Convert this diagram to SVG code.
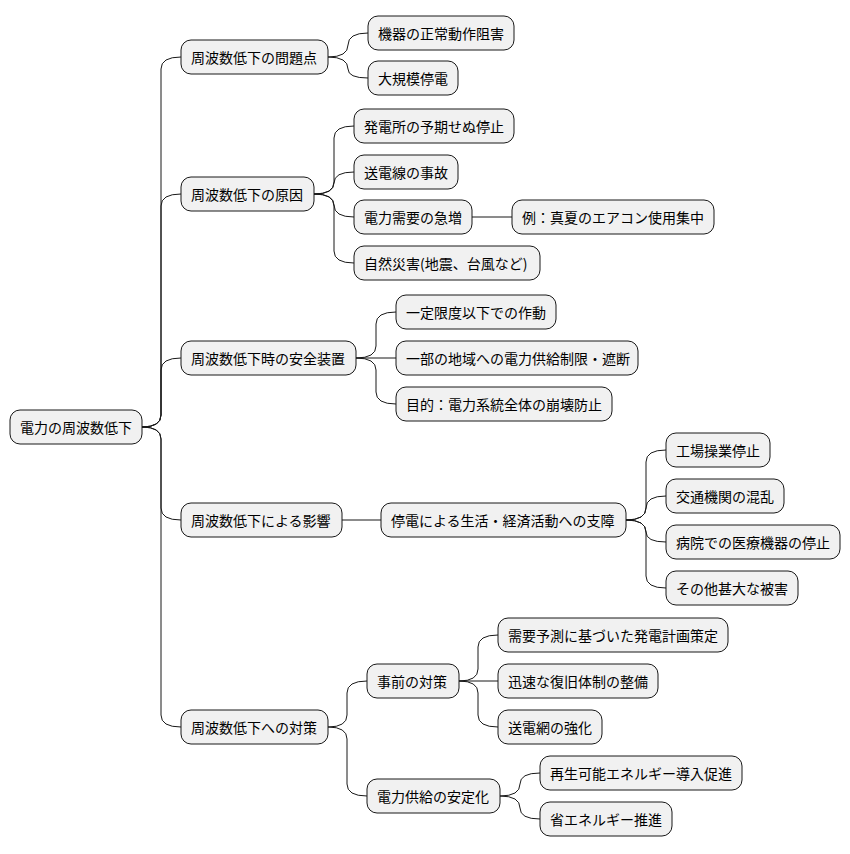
<svg xmlns="http://www.w3.org/2000/svg" width="850" height="854" viewBox="0 0 850 854">
<style>
.n rect{fill:#F1F1F1;stroke:#181818;stroke-width:1;}
.n text{font-family:"Noto Sans CJK JP","Liberation Sans",sans-serif;font-size:14px;fill:#000;dominant-baseline:central;}
.c path{fill:none;stroke:#181818;stroke-width:1;}
</style>
<rect width="850" height="854" fill="#fff"/>
<g class="c">
<path d="M142,427 Q161,427 161,415 L161,69 Q161,57 181,57"/>
<path d="M142,427 Q161,427 161,415 L161,206 Q161,194 181,194"/>
<path d="M142,427 Q161,427 161,415 L161,370 Q161,358 181,358"/>
<path d="M142,427 Q161,427 161,439 L161,508 Q161,520 181,520"/>
<path d="M142,427 Q161,427 161,439 L161,715 Q161,727 181,727"/>
<path d="M328,57 Q348,57 348,45 Q348,33 368,33"/>
<path d="M328,57 Q348,57 348,69 Q348,78 368,78"/>
<path d="M314,194 Q334,194 334,182 L334,138 Q334,126 354,126"/>
<path d="M314,194 Q334,194 334,183 Q334,172 354,172"/>
<path d="M314,194 Q334,194 334,205 Q334,217 354,217"/>
<path d="M314,194 Q334,194 334,206 L334,251 Q334,263 354,263"/>
<path d="M356,358 Q376,358 376,346 L376,324 Q376,312 396,312"/>
<path d="M356,358 L396,358"/>
<path d="M356,358 Q376,358 376,370 L376,392 Q376,404 396,404"/>
<path d="M472,217 L512,217"/>
<path d="M342,520 L381,520"/>
<path d="M626,520 Q646,520 646,508 L646,462 Q646,450 666,450"/>
<path d="M626,520 Q646,520 646,508 Q646,496 666,496"/>
<path d="M626,520 Q646,520 646,532 Q646,542 666,542"/>
<path d="M626,520 Q646,520 646,532 L646,576 Q646,588 666,588"/>
<path d="M328,727 Q347,727 347,715 L347,693 Q347,681 367,681"/>
<path d="M328,727 Q347,727 347,739 L347,784 Q347,796 367,796"/>
<path d="M459,681 Q478,681 478,669 L478,647 Q478,635 498,635"/>
<path d="M459,681 L498,681"/>
<path d="M459,681 Q478,681 478,693 L478,715 Q478,727 498,727"/>
<path d="M500,796 Q520,796 520,784 Q520,773 540,773"/>
<path d="M500,796 Q520,796 520,808 Q520,819 540,819"/>
</g>
<g id="root" class="n"><rect x="10" y="410" width="132" height="34" rx="10"/><text x="20" y="427">電力の周波数低下</text></g>
<g id="a" class="n"><rect x="181" y="40" width="147" height="34" rx="10"/><text x="191" y="57">周波数低下の問題点</text></g>
<g id="a1" class="n"><rect x="368" y="16" width="146" height="34" rx="10"/><text x="378" y="33">機器の正常動作阻害</text></g>
<g id="a2" class="n"><rect x="368" y="61" width="90" height="34" rx="10"/><text x="378" y="78">大規模停電</text></g>
<g id="b" class="n"><rect x="181" y="177" width="133" height="34" rx="10"/><text x="191" y="194">周波数低下の原因</text></g>
<g id="b1" class="n"><rect x="354" y="109" width="160" height="34" rx="10"/><text x="364" y="126">発電所の予期せぬ停止</text></g>
<g id="b2" class="n"><rect x="354" y="155" width="104" height="34" rx="10"/><text x="364" y="172">送電線の事故</text></g>
<g id="b3" class="n"><rect x="354" y="200" width="118" height="34" rx="10"/><text x="364" y="217">電力需要の急増</text></g>
<g id="b3a" class="n"><rect x="512" y="200" width="202" height="34" rx="10"/><text x="522" y="217">例：真夏のエアコン使用集中</text></g>
<g id="b4" class="n"><rect x="354" y="246" width="186" height="34" rx="10"/><text x="364" y="263">自然災害(地震、台風など)</text></g>
<g id="c" class="n"><rect x="181" y="341" width="175" height="34" rx="10"/><text x="191" y="358">周波数低下時の安全装置</text></g>
<g id="c1" class="n"><rect x="396" y="295" width="160" height="34" rx="10"/><text x="406" y="312">一定限度以下での作動</text></g>
<g id="c2" class="n"><rect x="396" y="341" width="242" height="34" rx="10"/><text x="406" y="358">一部の地域への電力供給制限・遮断</text></g>
<g id="c3" class="n"><rect x="396" y="387" width="216" height="34" rx="10"/><text x="406" y="404">目的：電力系統全体の崩壊防止</text></g>
<g id="d" class="n"><rect x="181" y="503" width="161" height="34" rx="10"/><text x="191" y="520">周波数低下による影響</text></g>
<g id="d1" class="n"><rect x="381" y="503" width="245" height="34" rx="10"/><text x="391" y="520">停電による生活・経済活動への支障</text></g>
<g id="d1a" class="n"><rect x="666" y="433" width="104" height="34" rx="10"/><text x="676" y="450">工場操業停止</text></g>
<g id="d1b" class="n"><rect x="666" y="479" width="118" height="34" rx="10"/><text x="676" y="496">交通機関の混乱</text></g>
<g id="d1c" class="n"><rect x="666" y="525" width="174" height="34" rx="10"/><text x="676" y="542">病院での医療機器の停止</text></g>
<g id="d1d" class="n"><rect x="666" y="571" width="132" height="34" rx="10"/><text x="676" y="588">その他甚大な被害</text></g>
<g id="e" class="n"><rect x="181" y="710" width="147" height="34" rx="10"/><text x="191" y="727">周波数低下への対策</text></g>
<g id="e1" class="n"><rect x="367" y="664" width="92" height="34" rx="10"/><text x="377" y="681">事前の対策</text></g>
<g id="e1a" class="n"><rect x="498" y="618" width="230" height="34" rx="10"/><text x="508" y="635">需要予測に基づいた発電計画策定</text></g>
<g id="e1b" class="n"><rect x="498" y="664" width="160" height="34" rx="10"/><text x="508" y="681">迅速な復旧体制の整備</text></g>
<g id="e1c" class="n"><rect x="498" y="710" width="104" height="34" rx="10"/><text x="508" y="727">送電網の強化</text></g>
<g id="e2" class="n"><rect x="367" y="779" width="133" height="34" rx="10"/><text x="377" y="796">電力供給の安定化</text></g>
<g id="e2a" class="n"><rect x="540" y="756" width="202" height="34" rx="10"/><text x="550" y="773">再生可能エネルギー導入促進</text></g>
<g id="e2b" class="n"><rect x="540" y="802" width="132" height="34" rx="10"/><text x="550" y="819">省エネルギー推進</text></g>
</svg>
